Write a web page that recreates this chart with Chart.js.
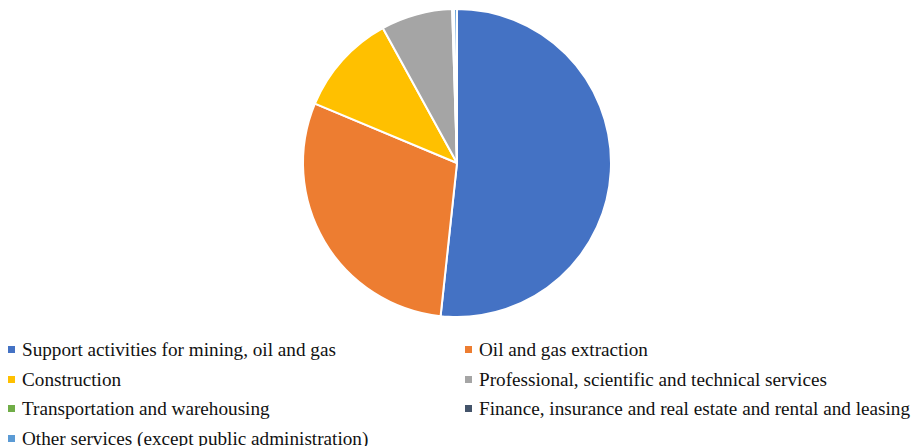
<!DOCTYPE html>
<html>
<head>
<meta charset="utf-8">
<script src="https://cdn.jsdelivr.net/npm/chart.js@4.4.1/dist/chart.umd.min.js"></script>
<style>
  html, body { margin: 0; padding: 0; background: #fff; }
  #wrap { position: relative; width: 914px; height: 446px; }
  #chartBox { position: absolute; left: 0; top: 0; width: 914px; height: 330px; }
  #legend { position: absolute; left: 0; top: 335px; width: 914px; color: #111; }
  .item { position: absolute; height: 30px; line-height: 30px; white-space: nowrap;
    font-family: 'Liberation Serif', serif; font-size: 19.2px; }
  .box { position: absolute; left: 0; top: 11px; width: 7px; height: 7px; }
  .lbl { position: absolute; left: 14px; top: 0; }
</style>
</head>
<body>
<div id="wrap">
  <div id="chartBox"><canvas id="pieSectores"></canvas></div>
  <div id="legend"></div>
</div>
<script>
// sectores y su participación (%)
const sectores = [
  'Support activities for mining, oil and gas',
  'Oil and gas extraction',
  'Construction',
  'Professional, scientific and technical services',
  'Transportation and warehousing',
  'Finance, insurance and real estate and rental and leasing',
  'Other services (except public administration)'
];
const participacion = [51.7, 29.6, 10.7, 7.5, 0.1, 0.1, 0.3];
const colores = ['#4472C4', '#ED7D31', '#FFC000', '#A5A5A5', '#70AD47', '#44546A', '#5B9BD5'];

const ctx = document.getElementById('pieSectores').getContext('2d');
new Chart(ctx, {
  type: 'pie',
  data: {
    labels: sectores,
    datasets: [{
      data: participacion,
      backgroundColor: colores,
      borderColor: '#ffffff',
      borderWidth: 2
    }]
  },
  options: {
    responsive: true,
    maintainAspectRatio: false,
    animation: false,
    layout: { padding: { top: 8, bottom: 12 } },
    plugins: {
      legend: { display: false },
      tooltip: { enabled: false }
    }
  }
});

// leyenda en dos columnas debajo del gráfico
const legend = document.getElementById('legend');
sectores.forEach((nombre, i) => {
  const col = i % 2, fila = Math.floor(i / 2);
  const item = document.createElement('div');
  item.className = 'item';
  item.style.left = (col === 0 ? 8 : 465) + 'px';
  item.style.top = (fila * 29.7) + 'px';
  item.innerHTML = '<span class="box" style="background:' + colores[i] + '"></span>' +
    '<span class="lbl">' + nombre + '</span>';
  legend.appendChild(item);
});
</script>
</body>
</html>
